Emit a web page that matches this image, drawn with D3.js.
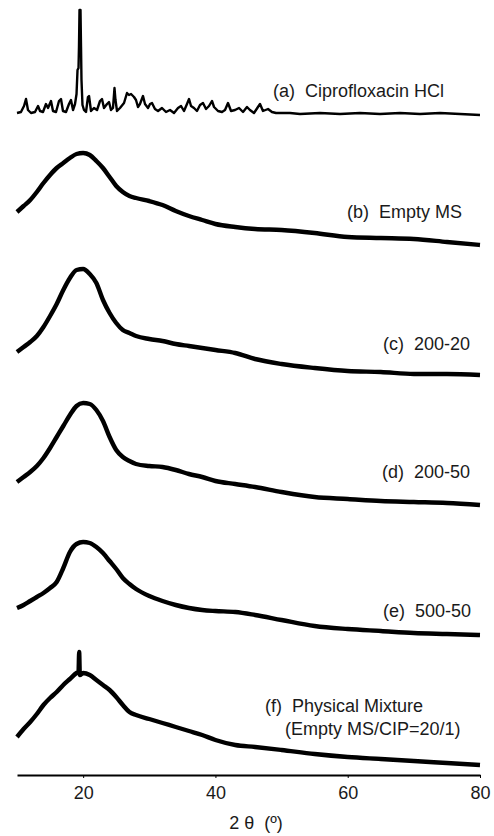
<!DOCTYPE html>
<meta charset="utf-8">
<title>xrd</title>
<style>
  body { margin: 0; background: #fff; }
  text { font-family: "Liberation Sans", Arial, sans-serif; fill: #1a1a1a; white-space: pre; }
  .axis path, .axis line { stroke: #000; }
</style>
<body>
<div class="graph"></div>
</body>
<script src="https://d3js.org/d3.v7.min.js"></script>
<script>

// 2 theta grid shared by the amorphous patterns (b)-(e)
var theta = [10,11,12,13,14,15,16,17,18,19,20,21,22,23,24,25,26,27,28,30,32,34,36,38,40,43,46,50,55,60,65,70,75,80];

var emptyMS = [33,39,45,53,62,70,77,82,87,91,92,90,84,77,68,59,53,49,47,44,40,34,29,25,21,18,16,15,12,8,7,6,3,0];
var ms200_20 = [23,28,33,39,48,59,71,85,97,105,106,101,92,75,62,52,45,42,39,36,34,31,29,27,25,22,16,11,7,4,3,1,1,0];
var ms200_50 = [23,28,33,39,47,57,68,79,90,99,102,101,95,84,68,55,48,44,41,39,38,35,31,28,24,21,18,13,8,6,4,3,2,0];
var ms500_50 = [27,30,34,38,42,47,53,67,83,91,93,92,88,82,74,66,57,51,46,39,34,30,27,25,24,23,20,15,9,6,4,2,1,0];

// physical mixture keeps the small drug peak near 19.4
var thetaMix = [10,11,12,13,14,15,16,17,18,19,19.3,19.4,19.5,20,21,22,23,24,25,26,27,28,30,32,34,36,38,40,43,46,50,55,60,65,70,75,80];
var physMix = [28,36,43,51,60,67,73,80,86,92,93,113,90,92,90,85,80,75,68,60,53,50,46,42,38,34,30,25,20,18,15,11,8,6,4,2,0];

// crystalline ciprofloxacin HCl
var thetaCip = [10.00,10.60,11.06,11.36,11.66,12.12,12.72,13.18,13.48,13.93,14.38,14.69,15.14,15.44,15.90,16.35,16.65,16.95,17.41,17.86,
  18.16,18.47,18.77,19.00,19.15,19.30,19.37,19.45,19.60,19.68,19.75,19.90,20.13,20.43,20.73,20.89,21.19,21.64,22.10,22.55,
  22.85,23.15,23.61,23.91,24.21,24.51,24.74,24.89,25.12,25.57,26.18,26.63,26.93,27.24,27.69,27.99,28.29,28.59,29.05,29.35,
  29.81,30.11,30.41,30.86,31.32,31.92,32.53,33.13,33.74,34.34,34.80,35.25,35.70,36.01,36.31,36.76,37.21,37.67,38.12,38.58,
  39.03,39.48,39.79,40.39,40.99,41.45,41.90,42.36,42.96,43.57,44.17,44.77,45.22,45.83,46.43,46.74,47.19,47.95,48.55,49.16,
  51.27,52.79,55.81,58.84,61.86,64.88,67.91,70.93,73.96,76.98,80.00];
var cipHCl = [0,1,7,14,3,0,1,7,2,1,9,5,12,2,1,12,14,2,1,9,
  13,3,9,19,43,45,66,103,103,66,33,8,3,1,16,17,2,5,3,12,
  14,5,9,11,3,5,25,13,2,5,10,20,18,19,16,13,6,9,17,9,
  5,9,10,4,2,5,1,3,0,5,7,2,9,14,7,5,2,8,10,4,
  7,12,6,2,1,3,10,2,3,5,1,6,3,0,6,9,2,4,1,0,
  0,-1,0,-1,0,-1,0,-1,0,-1,-2];

var xticks = [20, 40, 60, 80];

var labelA = "(a)  Ciprofloxacin HCl",
    labelB = "(b)  Empty MS",
    labelC = "(c)  200-20",
    labelD = "(d)  200-50",
    labelE = "(e)  500-50",
    labelF1 = "(f)  Physical Mixture",
    labelF2 = "(Empty MS/CIP=20/1)";

var W = 494, H = 836;

var svg = d3.select(".graph").append("svg")
    .attr("width", W)
    .attr("height", H);

var xscale = d3.scaleLinear()
  .domain([10, 80])
  .range([17, 480]);

var yscale = d3.scaleLinear()
  .domain([0, 770])
  .range([775, 5]);

// one entry per pattern, stacked with a vertical offset (a.u.)
var patterns = [
  {x: thetaCip, y: cipHCl,   off: 662, w: 2.4, smooth: false, label: [labelA], lx: 273, ly: 97},
  {x: theta,    y: emptyMS,  off: 530, w: 4.4, smooth: true, label: [labelB], lx: 347, ly: 218},
  {x: theta,    y: ms200_20, off: 400, w: 4.4, smooth: true, label: [labelC], lx: 383, ly: 350},
  {x: theta,    y: ms200_50, off: 270, w: 4.4, smooth: true, label: [labelD], lx: 382, ly: 478},
  {x: theta,    y: ms500_50, off: 140, w: 4.4, smooth: true, label: [labelE], lx: 383, ly: 617},
  {x: thetaMix, y: physMix,  off: 10,  w: 4.4, smooth: true, label: [labelF1, labelF2], lx: 265, ly: 712}
];

patterns.forEach(function(p) {
  var pts = p.x.map(function(t, i) { return [t, p.y[i] + p.off]; });
  var line = d3.line()
    .x(function(d) { return xscale(d[0]); })
    .y(function(d) { return yscale(d[1]); })
    .curve(p.smooth ? d3.curveMonotoneX : d3.curveLinear);

  svg.append("path")
    .datum(pts)
    .attr("fill", "none")
    .attr("stroke", "#000")
    .attr("stroke-width", p.w)
    .attr("stroke-linejoin", "round")
    .attr("d", line);

  p.label.forEach(function(s, i) {
    svg.append("text")
      .attr("x", p.lx + i * 20)
      .attr("y", p.ly + i * 23)
      .style("font-size", "18px")
      .text(s);
  });
});

// x axis
var xaxis = d3.axisBottom(xscale)
  .tickValues(xticks)
  .tickSize(3)
  .tickSizeOuter(0)
  .tickPadding(8);

var gx = svg.append("g")
  .attr("class", "axis")
  .attr("transform", "translate(0," + 775 + ")")
  .call(xaxis);

gx.select(".domain").attr("stroke-width", 2);
gx.selectAll("text")
  .style("font-size", "18px")
  .attr("fill", "#1a1a1a");

svg.append("text")
  .attr("x", 256)
  .attr("y", 829)
  .attr("text-anchor", "middle")
  .style("font-size", "18px")
  .text("2 \u03b8  (\u00ba)");

</script>
